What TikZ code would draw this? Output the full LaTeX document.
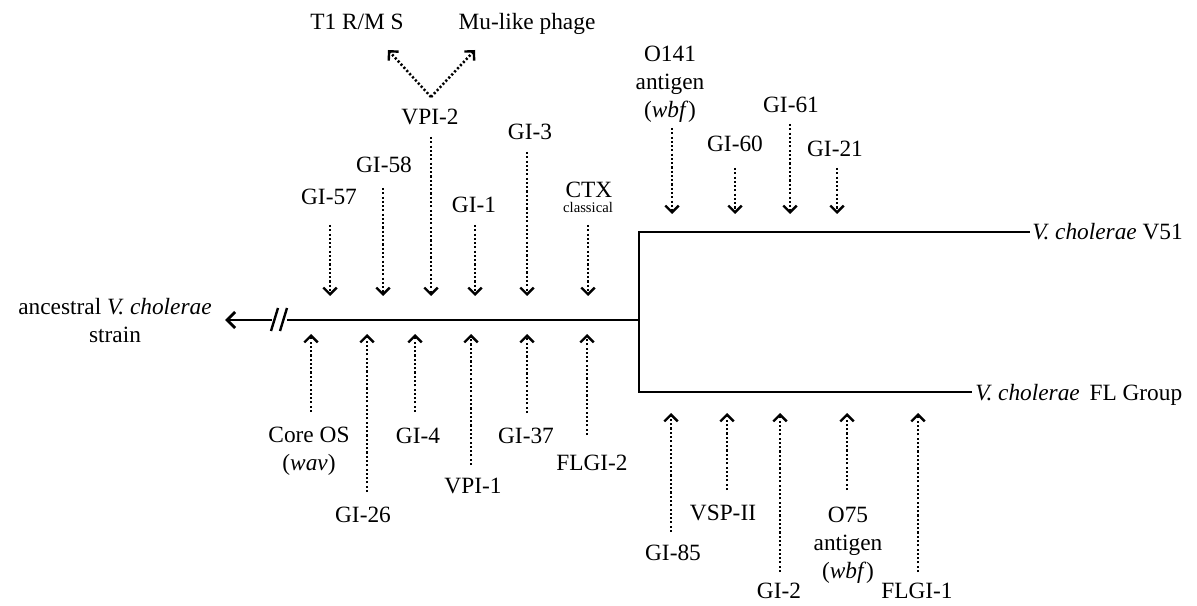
\documentclass[tikz,border=0pt]{standalone}
\usepackage{fontspec}
\setmainfont{Liberation Serif}
\usetikzlibrary{arrows.meta}
\begin{document}
\begin{tikzpicture}[x=0.75pt,y=-0.75pt,
  lbl/.style={inner sep=0pt,font=\fontsize{17.5}{21}\selectfont},
  mlbl/.style={lbl,align=center},
  small/.style={inner sep=0pt,font=\fontsize{11}{13}\selectfont},
  dar/.style={line width=1.9pt,dash pattern=on 1.6pt off 1.6pt,
     -{Straight Barb[length=5pt,width=10pt,line width=1.8pt]}},
  branch/.style={line width=2.2pt},
]
\useasboundingbox (0,0) rectangle (1197,606);

% ---------- tree ----------
\node[mlbl] (anc) at (115,321) {ancestral \textit{V. cholerae}\\strain};
\coordinate (tipL) at (225,320);
\coordinate (brkA) at (272,320);
\coordinate (brkB) at (287,320);
\coordinate (junc) at (639,320);
\coordinate (jtop) at (639,232);
\coordinate (jbot) at (639,392);
\node[lbl,anchor=base west] (v51) at (1032,240) {\textit{V. cholerae} V51};
\node[lbl,anchor=base west] (flg) at (975,400) {\textit{V. cholerae}\, FL Group};
\coordinate (v51e) at (1030,232);
\coordinate (flge) at (972,392);

\draw[branch,-{Straight Barb[length=6pt,width=12pt]}] (brkA) -- (tipL);
\draw[branch] (brkB) -- (junc);
\draw[branch,line cap=rect] (jtop) -- (jbot);
\draw[branch] (jtop) -- (v51e);
\draw[branch] (jbot) -- (flge);
\coordinate (s1a) at (271,331); \coordinate (s1b) at (278,308);
\coordinate (s2a) at (280,331); \coordinate (s2b) at (287,308);
\draw[line width=1.8pt] (s1a) -- (s1b);
\draw[line width=1.8pt] (s2a) -- (s2b);

% ---------- top-left labels ----------
\node[lbl,anchor=base] (t1) at (357,30) {T1 R/M S};
\node[lbl,anchor=base] (mu) at (527,30) {Mu-like phage};
\node[lbl,anchor=base] (vpi2) at (430,125) {VPI-2};
\node[lbl,anchor=base] (gi58) at (384,173) {GI-58};
\node[lbl,anchor=base] (gi57) at (329,205) {GI-57};
\node[lbl,anchor=base] (gi1) at (474,213) {GI-1};
\node[lbl,anchor=base] (gi3) at (530,140) {GI-3};
\node[lbl,anchor=base] (ctx) at (589,198) {CTX};
\node[small,anchor=base] (cls) at (588,213) {classical};

\coordinate (fork) at (431,97);
\coordinate (forkL) at (388,50);
\coordinate (forkR) at (475,50);
\draw[dar] (fork) -- (forkL);
\draw[dar] (fork) -- (forkR);

\foreach \n/\x/\y in {a57/330/225, a58/383/188, av2/431/137, ag1/475/225, ag3/527/152, actx/588/225}{
  \coordinate (\n s) at (\x,\y);
  \coordinate (\n e) at (\x,296);
  \draw[dar] (\n s) -- (\n e);
}

% ---------- bottom-left labels ----------
\node[mlbl] (core) at (309,451) {Core OS\\(\textit{wav})};
\node[lbl,anchor=base] (gi26) at (363,522) {GI-26};
\node[lbl,anchor=base] (gi4) at (418,443) {GI-4};
\node[lbl,anchor=base] (vpi1) at (473,493) {VPI-1};
\node[lbl,anchor=base] (gi37) at (526,443) {GI-37};
\node[lbl,anchor=base] (flgi2) at (592,470) {FLGI-2};

\foreach \n/\x/\y in {bcore/311/412, b26/367/492, b4/415/412, bv1/471/465, b37/527/413, bfl2/587/435}{
  \coordinate (\n s) at (\x,\y);
  \coordinate (\n e) at (\x,334);
  \draw[dar] (\n s) -- (\n e);
}

% ---------- top-right labels ----------
\node[mlbl] (o141) at (670,84) {O141\\antigen\\(\textit{wbf})};
\node[lbl,anchor=base] (gi60) at (735,152) {GI-60};
\node[lbl,anchor=base] (gi61) at (791,113) {GI-61};
\node[lbl,anchor=base] (gi21) at (835,157) {GI-21};

\foreach \n/\x/\y in {co141/672/128, c60/735/168, c61/790/124, c21/837/168}{
  \coordinate (\n s) at (\x,\y);
  \coordinate (\n e) at (\x,214);
  \draw[dar] (\n s) -- (\n e);
}

% ---------- bottom-right labels ----------
\node[lbl,anchor=base] (gi85) at (673,560) {GI-85};
\node[lbl,anchor=base] (vsp) at (723,520) {VSP-II};
\node[lbl,anchor=base] (gi2) at (779,598) {GI-2};
\node[mlbl] (o75) at (848,545) {O75\\antigen\\(\textit{wbf})};
\node[lbl,anchor=base] (flgi1) at (917,598) {FLGI-1};

\foreach \n/\x/\y in {d85/671/532, dvsp/727/490, d2/780/572, do75/847/490, dfl1/918/572}{
  \coordinate (\n s) at (\x,\y);
  \coordinate (\n e) at (\x,413);
  \draw[dar] (\n s) -- (\n e);
}
\end{tikzpicture}
\end{document}
